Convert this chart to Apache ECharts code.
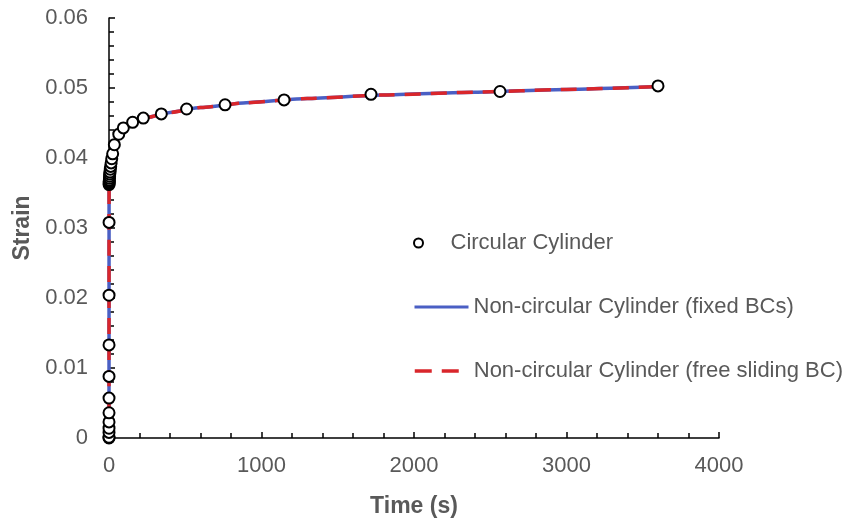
<!DOCTYPE html>
<html>
<head>
<meta charset="utf-8">
<script src="https://cdn.jsdelivr.net/npm/echarts@6/dist/echarts.min.js"></script>
<style>html,body{margin:0;padding:0;background:#fff}#c{width:854px;height:523px}</style>
</head>
<body>
<div id="c"></div>
<script>
// Circular Cylinder (markers)
const circTime = [0, 0.02, 0.04, 0.06, 0.08, 0.1, 0.13, 0.17, 0.22, 0.3, 0.4, 0.5, 1, 1.5, 2, 3, 4, 5, 6.5, 8.5, 11, 14, 18, 24, 35, 64, 94, 155, 225, 343, 509, 761, 1148, 1718, 2564, 3600];
const circStrain = [0, 0.0001, 0.0008, 0.0014, 0.0023, 0.0036, 0.0057, 0.0088, 0.0133, 0.0204, 0.0308, 0.0362, 0.0364, 0.0366, 0.0368, 0.0371, 0.0374, 0.0377, 0.0380, 0.0384, 0.0388, 0.0393, 0.0399, 0.0406, 0.0419, 0.0434, 0.0443, 0.0451, 0.0457, 0.0463, 0.0470, 0.0476, 0.0483, 0.0491, 0.0495, 0.0503];
// Non-circular Cylinder (fixed BCs)
const fixedTime = [0, 0.5, 2, 5, 10, 20, 40, 70, 100, 150, 250, 400, 600, 900, 1300, 1800, 2400, 3000, 3600];
const fixedStrain = [0, 0.0362, 0.0368, 0.0377, 0.0387, 0.0401, 0.0422, 0.0435, 0.0443, 0.0450, 0.0458, 0.0465, 0.0472, 0.0479, 0.0485, 0.0490, 0.0494, 0.0498, 0.0502];
// Non-circular Cylinder (free sliding BC)
const slideTime = [0, 0.5, 2, 5, 10, 20, 40, 70, 100, 150, 250, 400, 600, 900, 1300, 1800, 2400, 3000, 3600];
const slideStrain = [0, 0.0362, 0.0368, 0.0377, 0.0387, 0.0401, 0.0422, 0.0435, 0.0443, 0.0450, 0.0458, 0.0465, 0.0472, 0.0479, 0.0485, 0.0490, 0.0494, 0.0498, 0.0502];
// Axis ticks
const xTicks = [0, 1000, 2000, 3000, 4000];
const yTicks = [0, 0.01, 0.02, 0.03, 0.04, 0.05, 0.06];
const seriesNames = ['Circular Cylinder', 'Non-circular Cylinder (fixed BCs)', 'Non-circular Cylinder (free sliding BC)'];

const zip = (a, b) => a.map((v, i) => [v, b[i]]);
const grey = '#595959';
const font = 'Liberation Sans, Arial, sans-serif';
const blue = '#4A5FC4';
const red = '#D9262B';

const chart = echarts.init(document.getElementById('c'), null, {renderer: 'canvas'});
chart.setOption({
  animation: false,
  backgroundColor: '#fff',
  grid: {left: 109, right: 135, top: 18, bottom: 76, containLabel: false},
  xAxis: {
    type: 'value',
    min: xTicks[0], max: xTicks[xTicks.length - 1], interval: xTicks[1] - xTicks[0],
    name: 'Time (s)', nameLocation: 'middle', nameGap: 57,
    nameTextStyle: {color: grey, fontSize: 23, fontWeight: 'bold', fontFamily: font},
    axisLine: {show: true, onZero: false, lineStyle: {color: '#000', width: 1.5}},
    axisTick: {show: true, inside: true, length: 6, lineStyle: {color: '#000', width: 1.5}},
    minorTick: {show: true, splitNumber: 5, length: 5, lineStyle: {color: '#000', width: 1.5}},
    axisLabel: {color: grey, fontSize: 22, fontFamily: font, margin: 17,
      formatter: v => String(v)},
    splitLine: {show: false}
  },
  yAxis: {
    type: 'value',
    min: yTicks[0], max: yTicks[yTicks.length - 1], interval: yTicks[1] - yTicks[0],
    name: 'Strain', nameLocation: 'middle', nameGap: 73, nameRotate: 90,
    nameTextStyle: {color: grey, fontSize: 23, fontWeight: 'bold', fontFamily: font},
    axisLine: {show: true, onZero: false, lineStyle: {color: '#000', width: 1.5}},
    axisTick: {show: true, inside: true, length: 6, lineStyle: {color: '#000', width: 1.5}},
    minorTick: {show: true, splitNumber: 5, length: 5, lineStyle: {color: '#000', width: 1.5}},
    axisLabel: {color: grey, fontSize: 22, fontFamily: font, margin: 21,
      formatter: v => String(parseFloat(v.toFixed(2)))},
    splitLine: {show: false}
  },
  legend: [
    {data: [seriesNames[0]], left: 413, top: 232, padding: 0, itemWidth: 54, itemHeight: 9,
     icon: 'circle', itemStyle: {color: '#fff', borderColor: '#000', borderWidth: 2, opacity: 1},
     textStyle: {color: grey, fontSize: 22, fontFamily: font}},
    {data: [seriesNames[1]], left: 413, top: 296, padding: 0, itemWidth: 54, itemHeight: 14,
     itemStyle: {opacity: 0}, lineStyle: {width: 3},
     textStyle: {color: grey, fontSize: 22, fontFamily: font}},
    {data: [seriesNames[2]], left: 413, top: 360, padding: 0, itemWidth: 54, itemHeight: 14,
     itemStyle: {opacity: 0}, lineStyle: {width: 3.5, type: [17, 10]},
     textStyle: {color: grey, fontSize: 22, fontFamily: font}}
  ],
  series: [
    {
      name: seriesNames[1], type: 'line', data: zip(fixedTime, fixedStrain),
      showSymbol: false, symbol: 'none', smooth: 0.2, smoothMonotone: 'x',
      lineStyle: {color: blue, width: 3.5}, itemStyle: {color: blue}, z: 2
    },
    {
      name: seriesNames[2], type: 'line', data: zip(slideTime, slideStrain),
      showSymbol: false, symbol: 'none', smooth: 0.2, smoothMonotone: 'x',
      lineStyle: {color: red, width: 3.5, type: [16, 10]}, itemStyle: {color: red}, z: 3
    },
    {
      name: seriesNames[0], type: 'scatter', data: zip(circTime, circStrain),
      symbol: 'circle', symbolSize: 11,
      itemStyle: {color: '#fff', borderColor: '#000', borderWidth: 2, opacity: 1}, z: 4
    }
  ]
});
</script>
</body>
</html>
